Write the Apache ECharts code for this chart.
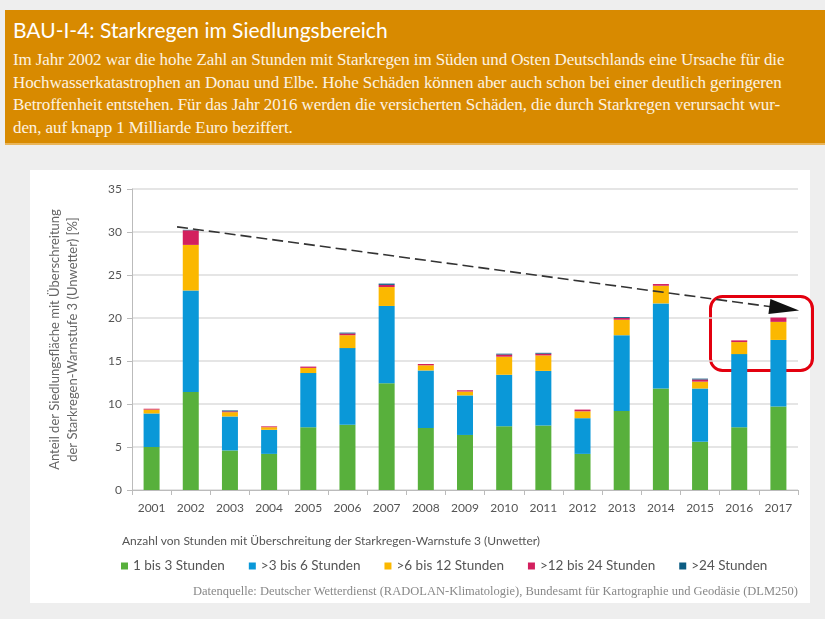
<!DOCTYPE html>
<html>
<head>
<meta charset="utf-8">
<script src="https://cdn.jsdelivr.net/npm/echarts@6/dist/echarts.min.js"></script>
<style>
  body { margin: 0; background: #eeeeee; width: 825px; height: 619px; overflow: hidden; position: relative; }
  #head { position: absolute; left: 5px; top: 10px; width: 820px; height: 135px; background: #d88a00; color: #fff; box-sizing: border-box; padding: 6px 8px; border-bottom: 2px solid #e9b55a; }
  #head h1 { margin: 0; font-family: Lato, sans-serif; font-weight: normal; font-size: 21px; line-height: 28px; }
  #head p { margin: 5px 0 0 0; font-family: "Liberation Serif", serif; font-size: 17px; line-height: 22.5px; letter-spacing: -0.1px; white-space: nowrap; color: #fdf3e2; }
  #panel { position: absolute; left: 30px; top: 170px; width: 780px; height: 433px; background: #fff; }
  #main { position: absolute; left: 30px; top: 170px; width: 795px; height: 449px; }
</style>
</head>
<body>
<div id="head">
  <h1>BAU-I-4: Starkregen im Siedlungsbereich</h1>
  <p>Im Jahr 2002 war die hohe Zahl an Stunden mit Starkregen im Süden und Osten Deutschlands eine Ursache für die<br>
  Hochwasserkatastrophen an Donau und Elbe. Hohe Schäden können aber auch schon bei einer deutlich geringeren<br>
  Betroffenheit entstehen. Für das Jahr 2016 werden die versicherten Schäden, die durch Starkregen verursacht wur-<br>
  den, auf knapp 1 Milliarde Euro beziffert.</p>
</div>
<div id="panel"></div>
<div id="main"></div>
<script>
// Jahre
var years = ['2001','2002','2003','2004','2005','2006','2007','2008','2009','2010','2011','2012','2013','2014','2015','2016','2017'];
// Anteil [%] je Klasse
var h1bis3   = [5.0, 11.4, 4.6, 4.2, 7.3, 7.6, 12.4, 7.2, 6.4, 7.4, 7.5, 4.2, 9.2, 11.8, 5.6, 7.3, 9.7];
var h3bis6   = [3.9, 11.8, 3.95, 2.8, 6.3, 8.9, 9.0, 6.7, 4.6, 6.0, 6.35, 4.15, 8.8, 9.9, 6.2, 8.5, 7.75];
var h6bis12  = [0.45, 5.3, 0.5, 0.3, 0.6, 1.5, 2.2, 0.6, 0.45, 2.1, 1.8, 0.8, 1.8, 2.05, 0.8, 1.4, 2.1];
var h12bis24 = [0.1, 1.7, 0.1, 0.1, 0.15, 0.2, 0.25, 0.15, 0.15, 0.25, 0.2, 0.2, 0.2, 0.2, 0.25, 0.2, 0.5];
var h24      = [0, 0.05, 0.1, 0, 0, 0.1, 0.15, 0, 0, 0.1, 0.1, 0, 0.1, 0, 0.1, 0, 0];
var yTicks = [0, 5, 10, 15, 20, 25, 30, 35];
// Trendpfeil (x in Kategorie-Einheiten, y in %)
var trendStart = [1.15, 30.6];
var trendEnd = [16.65, 21.1];

var names = ['1 bis 3 Stunden', '>3 bis 6 Stunden', '>6 bis 12 Stunden', '>12 bis 24 Stunden', '>24 Stunden'];
var colors = ['#58b03c', '#0a98d8', '#fbb800', '#d3205e', '#0b5c82'];
var values = [h1bis3, h3bis6, h6bis12, h12bis24, h24];

var font = 'Lato, sans-serif';
var chart = echarts.init(document.getElementById('main'));

var series = names.map(function (n, i) {
  return {
    name: n, type: 'bar', stack: 'a', barWidth: 16,
    itemStyle: { color: colors[i] },
    data: values[i]
  };
});
series.push({
  name: 'trend', type: 'line', xAxisIndex: 1, data: [],
  markLine: {
    silent: true, animation: false,
    symbol: ['none', 'none'],
    label: { show: false },
    lineStyle: { color: '#333', type: [11, 5], width: 1.6 },
    data: [[{ coord: trendStart }, { coord: trendEnd }]]
  },
  markPoint: {
    silent: true, animation: false,
    symbol: 'triangle', symbolSize: [15, 30], symbolRotate: -97.6,
    itemStyle: { color: '#111' },
    label: { show: false },
    data: [{ coord: trendEnd }]
  }
});

chart.setOption({
  animation: false,
  textStyle: { fontFamily: font },
  color: colors,
  title: [
    { text: 'Anzahl von Stunden mit Überschreitung der Starkregen-Warnstufe 3 (Unwetter)', left: 87, top: 360,
      textStyle: { fontSize: 12, fontWeight: 'normal', color: '#555', fontFamily: font } },
    { text: 'Datenquelle: Deutscher Wetterdienst (RADOLAN-Klimatologie), Bundesamt für Kartographie und Geodäsie (DLM250)', right: 22, top: 410,
      textStyle: { fontSize: 12.5, fontWeight: 'normal', color: '#888', fontFamily: '"Liberation Serif", serif' } }
  ],
  legend: {
    data: names, left: 86, top: 384, itemWidth: 7, itemHeight: 7, icon: 'rect', itemGap: 24,
    textStyle: { fontSize: 13.5, color: '#555', fontFamily: font }
  },
  grid: { left: 102, right: 27, top: 19, bottom: 129 },
  xAxis: [
    { type: 'category', data: years,
      axisLine: { lineStyle: { color: '#bbb' } },
      axisTick: { show: true, length: 5, lineStyle: { color: '#bbb' } },
      axisLabel: { color: '#555', fontSize: 12, margin: 12 } },
    { type: 'value', min: 0, max: 17, show: false }
  ],
  yAxis: {
    type: 'value', min: 0, max: 35, interval: 5,
    name: 'Anteil der Siedlungsfläche mit Überschreitung\nder Starkregen-Warnstufe 3 (Unwetter) [%]',
    nameLocation: 'middle', nameRotate: 90, nameGap: 50,
    nameTextStyle: { color: '#666', fontSize: 13, lineHeight: 18 },
    axisLine: { show: true, lineStyle: { color: '#bbb' } },
    axisTick: { show: true, length: 5, lineStyle: { color: '#bbb' } },
    axisLabel: { color: '#555', fontSize: 12, margin: 10,
      formatter: function (v) { return yTicks.indexOf(v) >= 0 ? String(v) : ''; } },
    splitLine: { lineStyle: { color: '#dcdcdc', width: 1.5 } }
  },
  graphic: [{
    type: 'rect', left: 678, top: 124,
    shape: { width: 102, height: 74, r: 12 },
    style: { fill: 'none', stroke: '#e3000f', lineWidth: 3 }
  }],
  series: series
});
</script>
</body>
</html>
